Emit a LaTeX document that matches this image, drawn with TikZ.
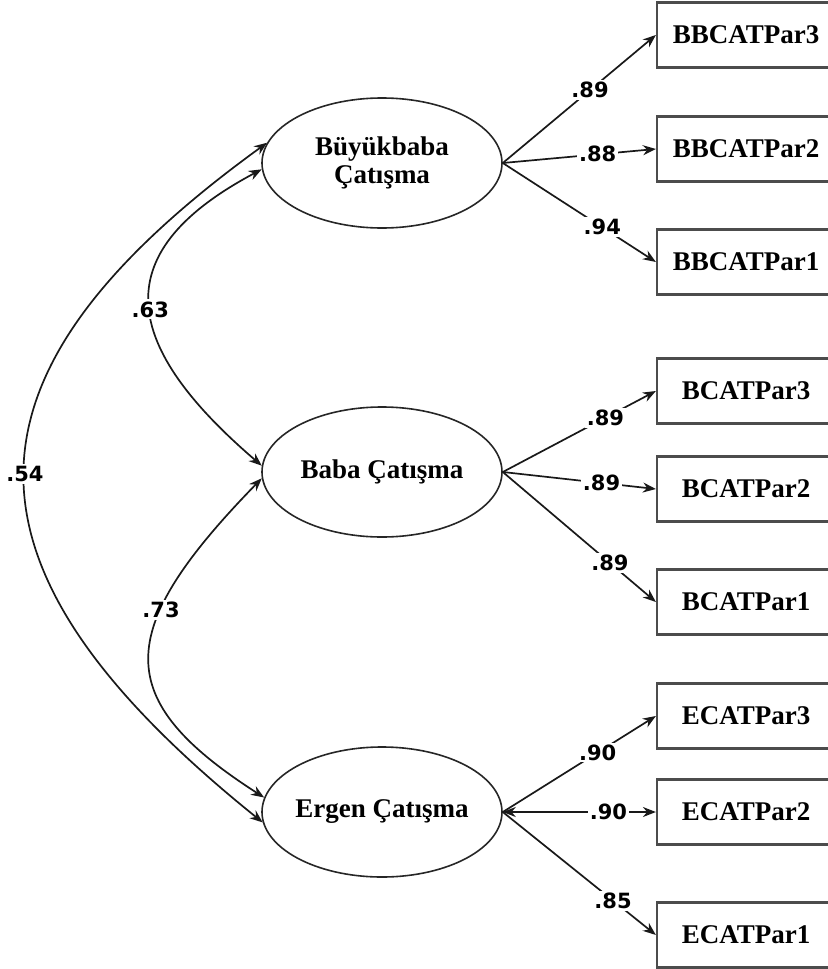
\documentclass[tikz,border=0pt]{standalone}
\usepackage{fontspec}
\setmainfont{Liberation Serif}
\newfontfamily\lblfont{DejaVu Sans}
\usetikzlibrary{shapes.geometric,arrows.meta}
\begin{document}
\begin{tikzpicture}[x=0.5pt,y=-0.5pt,
  >={Stealth[length=6.5pt,width=5pt]},
  latent/.style={ellipse, draw=black!85, line width=0.8pt, minimum width=120pt, minimum height=65pt, inner sep=0pt, align=center, font=\fontsize{13.5}{14}\selectfont\bfseries},
  obs/.style={rectangle, draw=black!70, line width=1.1pt, minimum width=89pt, minimum height=32.5pt, inner sep=0pt, font=\fontsize{13.5}{16}\selectfont\bfseries},
  conn/.style={->, draw=black!90, line width=0.85pt},
  cov/.style={<->, draw=black!90, line width=0.85pt},
  lbl/.style={fill=white, inner sep=1pt, font=\lblfont\fontsize{10.5}{12}\selectfont\bfseries}
]
\useasboundingbox (0,0) rectangle (828,969);
\clip (0,0) rectangle (828,969);

% latent variables
\node[latent] (bb) at (382,163) {Büyükbaba\\Çatışma};
\node[latent] (baba) at (382,472) {Baba Çatışma};
\node[latent] (eg) at (382,812) {\makebox[0pt]{Ergen Çatışma}};

% observed variables
\node[obs] (bb3) at (746,35) {BBCATPar3};
\node[obs] (bb2) at (746,149) {BBCATPar2};
\node[obs] (bb1) at (746,262) {BBCATPar1};
\node[obs] (b3) at (746,391) {BCATPar3};
\node[obs] (b2) at (746,489) {BCATPar2};
\node[obs] (b1) at (746,602) {BCATPar1};
\node[obs] (e3) at (746,716) {ECATPar3};
\node[obs] (e2) at (746,812) {ECATPar2};
\node[obs] (e1) at (746,935) {ECATPar1};

% loadings
\draw[conn] (bb.east) -- node[lbl,pos=0.57]{.89} (bb3.west);
\draw[conn] (bb.east) -- node[lbl,pos=0.62]{.88} (bb2.west);
\draw[conn] (bb.east) -- node[lbl,pos=0.65]{.94} (bb1.west);
\draw[conn] (baba.east) -- node[lbl,pos=0.67]{.89} (b3.west);
\draw[conn] (baba.east) -- node[lbl,pos=0.645]{.89} (b2.west);
\draw[conn] (baba.east) -- node[lbl,pos=0.70]{.89} (b1.west);
\draw[conn] (eg.east) -- node[lbl,pos=0.62]{.90} (e3.west);
\draw[cov] (eg.east) -- node[lbl,pos=0.69]{.90} (e2.west);
\draw[conn] (eg.east) -- node[lbl,pos=0.72]{.85} (e1.west);

% covariances
\draw[cov] (bb.170) .. controls (-55,376) and (-55,567) .. node[lbl,pos=0.5]{.54} (eg.185);
\draw[cov] (bb.183) .. controls (110,250) and (115,340) .. node[lbl,pos=0.53]{.63} (baba.177);
\draw[cov] (baba.183) .. controls (112,632) and (112,700) .. node[lbl,pos=0.34]{.73} (eg.173);
\end{tikzpicture}
\end{document}
